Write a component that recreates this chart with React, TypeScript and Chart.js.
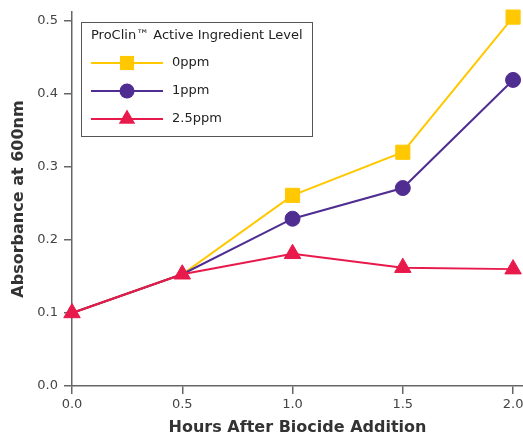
import React, { useEffect, useRef } from "react";
import { Chart, registerables } from "chart.js";

Chart.register(...registerables);

const hours = [0, 0.5, 1.0, 1.5, 2.0];
const ppm0 = [0.1, 0.153, 0.261, 0.32, 0.505];
const ppm1 = [0.1, 0.153, 0.229, 0.271, 0.419];
const ppm25 = [0.1, 0.153, 0.181, 0.162, 0.16];
const xTicks = [0, 0.5, 1.0, 1.5, 2.0];
const yTicks = [0, 0.1, 0.2, 0.3, 0.4, 0.5];
const seriesNames = ["0ppm", "1ppm", "2.5ppm"];
const legendTitle = "ProClin™ Active Ingredient Level";
const xTitle = "Hours After Biocide Addition";
const yTitle = "Absorbance at 600nm";

const YELLOW = "#FFC800";
const PURPLE = "#4F2D91";
const RED = "#E8194B";
const FONT = "'DejaVu Sans', Verdana, sans-serif";

const toPts = (ys: number[]) => hours.map((x, i) => ({ x, y: ys[i] }));

function drawMarker(ctx: CanvasRenderingContext2D, style: string, r: number, x: number, y: number) {
  ctx.beginPath();
  if (style === "rect") {
    const s = Math.SQRT1_2 * r;
    ctx.rect(x - s, y - s, 2 * s, 2 * s);
  } else if (style === "circle") {
    ctx.arc(x, y, r, 0, Math.PI * 2);
  } else {
    const wd = r * Math.sin(Math.PI / 3);
    ctx.moveTo(x, y - r);
    ctx.lineTo(x + wd, y + r * 0.5);
    ctx.lineTo(x - wd, y + r * 0.5);
    ctx.closePath();
  }
  ctx.fill();
}

const legendPlugin = {
  id: "boxLegend",
  afterDraw(chart: any) {
    const ctx = chart.ctx;
    const ca = chart.chartArea;
    const left = ca.left + 9;
    const top = 22;
    const w = 231;
    const h = 114;
    ctx.save();
    ctx.fillStyle = "#ffffff";
    ctx.fillRect(left, top, w, h);
    ctx.strokeStyle = "#555";
    ctx.lineWidth = 1;
    ctx.strokeRect(left + 0.5, top + 0.5, w, h);
    ctx.fillStyle = "#222";
    ctx.font = `13px ${FONT}`;
    ctx.textBaseline = "middle";
    ctx.textAlign = "left";
    ctx.fillText(legendTitle, left + 10, top + 14);
    const items = [
      { c: YELLOW, s: "rect", r: 10 },
      { c: PURPLE, s: "circle", r: 7.5 },
      { c: RED, s: "triangle", r: 9.5 },
    ];
    items.forEach((it, i) => {
      const y = top + 41 + i * 28;
      ctx.strokeStyle = it.c;
      ctx.lineWidth = 2;
      ctx.beginPath();
      ctx.moveTo(left + 10, y);
      ctx.lineTo(left + 82, y);
      ctx.stroke();
      ctx.fillStyle = it.c;
      drawMarker(ctx, it.s, it.r, left + 46, y);
      ctx.fillStyle = "#222";
      ctx.fillText(seriesNames[i], left + 91, y);
    });
    ctx.restore();
  },
};

export default function App() {
  const ref = useRef<HTMLCanvasElement>(null);
  useEffect(() => {
    if (!ref.current) return;
    const mk = (label: string, data: number[], color: string, style: string, r: number, order: number, hideFirst: boolean) => ({
      label,
      data: toPts(data),
      borderColor: color,
      backgroundColor: color,
      borderWidth: 2,
      pointStyle: style,
      pointRadius: data.map((_, i) => (hideFirst && i < 2 ? 0 : r)),
      pointHoverRadius: r,
      pointBorderWidth: 1,
      pointBorderColor: color,
      pointBackgroundColor: color,
      order,
      clip: false as any,
      tension: 0,
    });
    const chart = new Chart(ref.current, {
      type: "line",
      data: {
        datasets: [
          mk(seriesNames[0], ppm0, YELLOW, "rect", 10, 2, true),
          mk(seriesNames[1], ppm1, PURPLE, "circle", 7.5, 1, true),
          mk(seriesNames[2], ppm25, RED, "triangle", 9.5, 0, false),
        ],
      },
      options: {
        animation: false,
        responsive: true,
        maintainAspectRatio: false,
        layout: { autoPadding: false, padding: { top: 12, right: 0, left: 0, bottom: 0 } },
        plugins: { legend: { display: false }, tooltip: { enabled: false } },
        scales: {
          x: {
            type: "linear",
            min: 0,
            max: 2.045,
            afterBuildTicks: (s: any) => {
              s.ticks = xTicks.map((v) => ({ value: v }));
            },
            afterFit: (s: any) => {
              s.height = 51;
              s.paddingRight = 0;
              s.paddingLeft = 0;
            },
            grid: { drawOnChartArea: false, drawTicks: true, tickLength: 8, color: "#666", lineWidth: 1.5 },
            border: { color: "#666", width: 1.5 },
            ticks: {
              color: "#444",
              font: { family: FONT, size: 13 },
              padding: 3,
              maxRotation: 0,
              callback: (v: any) => Number(v).toFixed(1),
            },
            title: {
              display: true,
              text: xTitle,
              color: "#333",
              font: { family: FONT, size: 16, weight: "bold" },
              padding: { top: 1, bottom: 0 },
            },
          },
          y: {
            type: "linear",
            min: 0,
            max: 0.512,
            afterBuildTicks: (s: any) => {
              s.ticks = yTicks.map((v) => ({ value: v }));
            },
            afterFit: (s: any) => {
              s.width = 72;
              s.paddingTop = 0;
              s.paddingBottom = 0;
            },
            grid: { drawOnChartArea: false, drawTicks: true, tickLength: 8, color: "#666", lineWidth: 1.5 },
            border: { color: "#666", width: 1.5 },
            ticks: {
              color: "#444",
              font: { family: FONT, size: 13 },
              padding: 6,
              callback: (v: any) => Number(v).toFixed(1),
            },
            title: {
              display: true,
              text: yTitle,
              color: "#333",
              font: { family: FONT, size: 16, weight: "bold" },
              padding: { top: 9, bottom: 0 },
            },
          },
        },
      },
      plugins: [legendPlugin],
    });
    return () => chart.destroy();
  }, []);
  return (
    <div style={{ position: "fixed", left: 0, top: 0, width: 523, height: 437, background: "#fff" }}>
      <canvas ref={ref} />
    </div>
  );
}
